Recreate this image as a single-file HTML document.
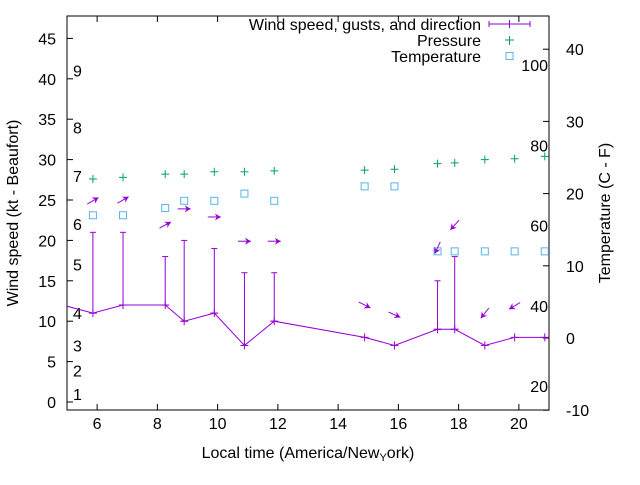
<!DOCTYPE html>
<html><head><meta charset="utf-8"><style>
body{margin:0;background:#fff;}
svg{font-family:"Liberation Sans",sans-serif;font-size:16px;}
</style></head><body>
<svg id="c" width="640" height="480" viewBox="0 0 640 480"></svg>
<script>
const times=[5.86,6.86,8.26,8.89,9.89,10.89,11.88,14.88,15.87,17.3,17.87,18.87,19.86,20.86];
const windSpeed=[11,12,12,10,11,7,10,8,7,9,9,7,8,8];
const gusts=[21,21,18,20,19,16,16,null,null,15,18,null,null,null];
const pressure=[27.6,27.8,28.2,28.2,28.5,28.5,28.6,28.7,28.8,29.5,29.6,30.0,30.1,30.4];
const temperature=[17,17,18,19,19,20,19,21,21,12,12,12,12,12];
const arrowLevel=[24.9,25,21.9,23.9,22.9,19.9,19.9,12,10.8,19.1,21.9,11,11.9,null];
const arrowAngle=[30,30,28,0,0,0,0,-27,-24,-115,-132,-128,-149,null];
const xTicks=[6,8,10,12,14,16,18,20];
const yTicks=[0,5,10,15,20,25,30,35,40,45];
const y2Ticks=[-10,0,10,20,30,40];
const beaufort=[[1,1],[2,3.9],[3,7],[4,11],[5,17],[6,22],[7,28],[8,34],[9,41]];
const fahrenheit=[20,40,60,80,100];

const L=67,R=549,T=16,B=410;
const sx=v=>L+(v-5)/16*(R-L);
const sy=v=>402-v*8.08;
const sy2=v=>338-v*7.22;
const svg=document.getElementById('c');
const NS='http://www.w3.org/2000/svg';
function mk(tag,attrs,parent){const e=document.createElementNS(NS,tag);for(const k in attrs)e.setAttribute(k,attrs[k]);(parent||svg).appendChild(e);return e;}
function txt(x,y,s,anchor,name){const t=mk('text',{x:x,y:y,'text-anchor':anchor||'start'});t.textContent=s;


return t;}
const W='#9400d3';
const fr=mk('rect',{x:L,y:T,width:R-L,height:B-T,fill:'none',stroke:'#000','stroke-width':1});


xTicks.forEach(v=>{const x=sx(v);mk('line',{x1:x,x2:x,y1:B,y2:B-6,stroke:'#000'});mk('line',{x1:x,x2:x,y1:T,y2:T+6,stroke:'#000'});
txt(x,429,String(v),'middle','x-tick-label');});
yTicks.forEach(v=>{const y=sy(v);mk('line',{x1:L,x2:L+6,y1:y,y2:y,stroke:'#000'});txt(56,y+6,String(v),'end','y-tick-label');});
y2Ticks.forEach(v=>{const y=sy2(v);mk('line',{x1:R,x2:R-6,y1:y,y2:y,stroke:'#000'});txt(566,y+6,String(v),'start','y2-tick-label');});
beaufort.forEach(b=>txt(73,sy(b[1])+6,String(b[0]),'start','beaufort-label'));
fahrenheit.forEach(f=>txt(548,sy2((f-32)*5/9)+6,String(f),'end','fahrenheit-label'));
let t=txt(0,0,'Wind speed (kt - Beaufort)','middle','y-axis-title');t.setAttribute('transform','translate(18,213) rotate(-90)');
t=txt(0,0,'Temperature (C - F)','middle','y2-axis-title');t.setAttribute('transform','translate(610,213) rotate(-90)');
t=txt(308,458,'','middle','x-axis-title');t.innerHTML='Local time (America/New<tspan font-size="11" dy="3">Y</tspan><tspan dy="-3">ork</tspan>)';
const pts=[[4.86,12]].concat(times.map((x,i)=>[x,windSpeed[i]]));
const cp=mk('clipPath',{id:'cl'});mk('rect',{x:L,y:T,width:R-L,height:B-T},cp);
const wl=mk('polyline',{points:pts.map(p=>sx(p[0])+','+sy(p[1])).join(' '),fill:'none',stroke:W,'stroke-width':1,'clip-path':'url(#cl)'});


times.forEach((x,i)=>{const px=sx(x),py=sy(windSpeed[i]);
mk('line',{x1:px-4,x2:px+4,y1:py,y2:py,stroke:W});mk('line',{x1:px,x2:px,y1:py-4,y2:py+4,stroke:W});
if(gusts[i]!=null){const gy=sy(gusts[i]);const g=mk('line',{x1:px,x2:px,y1:py,y2:gy,stroke:W});


mk('line',{x1:px-3,x2:px+3,y1:gy,y2:gy,stroke:W});mk('line',{x1:px-3,x2:px+3,y1:py,y2:py,stroke:W});}
const pp=sy(pressure[i]);const pg=mk('path',{d:`M${px-4},${pp}h8M${px},${pp-4}v8`,stroke:'#009e73','stroke-width':1});


const ty=sy2(temperature[i]);const tp=mk('rect',{x:px-3.5,y:ty-3.5,width:7,height:7,fill:'none',stroke:'#56b4e9'});


if(arrowLevel[i]!=null){const a=arrowAngle[i]*Math.PI/180,cx=px,cy=sy(arrowLevel[i]),len=13;
const dx=Math.cos(a),dy=-Math.sin(a);const x1=cx-dx*len/2,y1=cy-dy*len/2,x2=cx+dx*len/2,y2=cy+dy*len/2;
const g=mk('g',{});


mk('line',{x1:x1,y1:y1,x2:x2,y2:y2,stroke:W},g);
const nx=-dy,ny=dx,hx=x2-dx*6,hy=y2-dy*6;
mk('polygon',{points:`${x2},${y2} ${hx+nx*3.5},${hy+ny*3.5} ${hx+dx*2},${hy+dy*2} ${hx-nx*3.5},${hy-ny*3.5}`,fill:W},g);}
});
txt(481,30,'Wind speed, gusts, and direction','end','legend-wind');
txt(481,46,'Pressure','end','legend-pressure');
txt(481,62,'Temperature','end','legend-temperature');
const lg=mk('g',{});


mk('path',{d:'M489,24h41M489,21v6M530,21v6M509.5,20v8',stroke:W},lg);
mk('path',{d:'M505,40h9M509.5,36v9',stroke:'#009e73'},lg);
mk('rect',{x:506,y:52.5,width:7,height:7,fill:'none',stroke:'#56b4e9'},lg);
</script>
</body></html>
